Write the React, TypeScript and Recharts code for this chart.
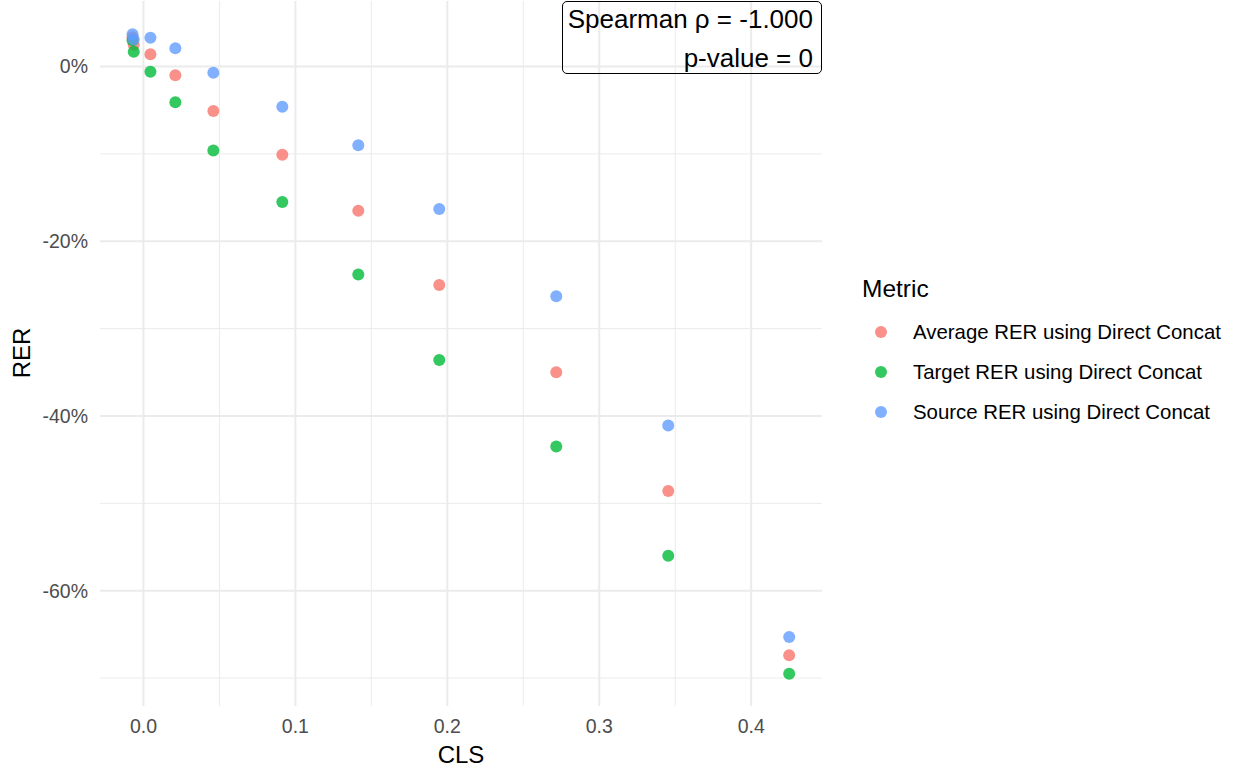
import React from 'react'
import { ScatterChart, Scatter, XAxis, YAxis, ReferenceLine } from 'recharts'

// CLS on the x axis, RER (%) for each metric on the y axis
const cls = [-0.0072, -0.0064, 0.0046, 0.021, 0.046, 0.0914, 0.1414, 0.1947, 0.2717, 0.3454, 0.425]
const averageRer = [3.35, 2.5, 1.4, -1.0, -5.1, -10.1, -16.5, -25.0, -35.0, -48.6, -67.4]
const targetRer = [3.0, 1.7, -0.6, -4.1, -9.6, -15.5, -23.8, -33.6, -43.5, -56.0, -69.5]
const sourceRer = [3.7, 3.1, 3.3, 2.1, -0.7, -4.6, -9.0, -16.3, -26.3, -41.1, -65.3]

const xTicks = [0, 0.1, 0.2, 0.3, 0.4]
const xMinor = [0.05, 0.15, 0.25, 0.35]
const yTicks = [0, -20, -40, -60]
const yMinor = [-10, -30, -50, -70]

const FONT = '"Liberation Sans", Arial, sans-serif'
const GRID = '#ebebeb'

const series = [
  { name: 'Average RER using Direct Concat', color: '#F8766D', values: averageRer },
  { name: 'Target RER using Direct Concat', color: '#00BA38', values: targetRer },
  { name: 'Source RER using Direct Concat', color: '#619CFF', values: sourceRer },
]

const toPoints = (values: number[]) => cls.map((x, i) => ({ x, y: values[i] }))

const dot = (color: string) => (props: any) => (
  <circle cx={props.cx} cy={props.cy} r={6} fill={color} fillOpacity={0.8} />
)

const tickStyle = { fill: '#4d4d4d', fontSize: 19.5, fontFamily: FONT }

export default function App() {
  return (
    <div style={{ position: 'absolute', left: 0, top: 0, width: 1236, height: 772, background: '#fff', fontFamily: FONT }}>
      <ScatterChart width={1236} height={772} margin={{ top: 1, right: 414, bottom: 0, left: 0 }}>
        <XAxis
          dataKey="x" type="number" domain={[-0.0286, 0.4466]} ticks={xTicks}
          tickFormatter={(v: number) => v.toFixed(1)}
          axisLine={false} tickLine={false} tickSize={0} tickMargin={13}
          height={66} tick={tickStyle} allowDataOverflow
        />
        <YAxis
          dataKey="y" type="number" domain={[-73.2, 7.5]} ticks={yTicks}
          tickFormatter={(v: number) => `${v}%`}
          axisLine={false} tickLine={false} tickSize={0} tickMargin={12}
          width={100} tick={tickStyle} allowDataOverflow
        />
        {yMinor.map(v => <ReferenceLine key={'ym' + v} y={v} stroke={GRID} strokeWidth={1} />)}
        {xMinor.map(v => <ReferenceLine key={'xm' + v} x={v} stroke={GRID} strokeWidth={1} />)}
        {yTicks.map(v => <ReferenceLine key={'y' + v} y={v} stroke={GRID} strokeWidth={2} />)}
        {xTicks.map(v => <ReferenceLine key={'x' + v} x={v} stroke={GRID} strokeWidth={2} />)}
        {series.map(s => (
          <Scatter key={s.name} name={s.name} data={toPoints(s.values)} shape={dot(s.color)} isAnimationActive={false} />
        ))}
      </ScatterChart>

      {/* axis titles */}
      <div style={{ position: 'absolute', left: 461, top: 755, transform: 'translate(-50%, -50%)', fontSize: 24, color: '#000' }}>CLS</div>
      <div style={{ position: 'absolute', left: 22, top: 353, transform: 'translate(-50%, -50%) rotate(-90deg)', fontSize: 24, color: '#000' }}>RER</div>

      {/* correlation label */}
      <div style={{
        position: 'absolute', left: 562, top: 1, width: 260, height: 73, border: '1px solid #000', borderRadius: 5,
        textAlign: 'right', boxSizing: 'border-box', paddingRight: 8, fontSize: 26, lineHeight: '39px', color: '#000',
      }}>
        <div style={{ marginTop: -2 }}>Spearman ρ = -1.000</div>
        <div>p-value = 0</div>
      </div>

      {/* legend */}
      <div style={{ position: 'absolute', left: 862, top: 275, fontSize: 24.5, lineHeight: '28px', color: '#000' }}>Metric</div>
      {series.map((s, i) => (
        <div key={s.name} style={{ position: 'absolute', left: 870, top: 332 + i * 40 - 14, height: 28, display: 'flex', alignItems: 'center', fontSize: 20.4, color: '#000' }}>
          <svg width={22} height={28} style={{ marginRight: 21 }}>
            <circle cx={11} cy={14} r={6} fill={s.color} fillOpacity={0.8} />
          </svg>
          {s.name}
        </div>
      ))}
    </div>
  )
}
